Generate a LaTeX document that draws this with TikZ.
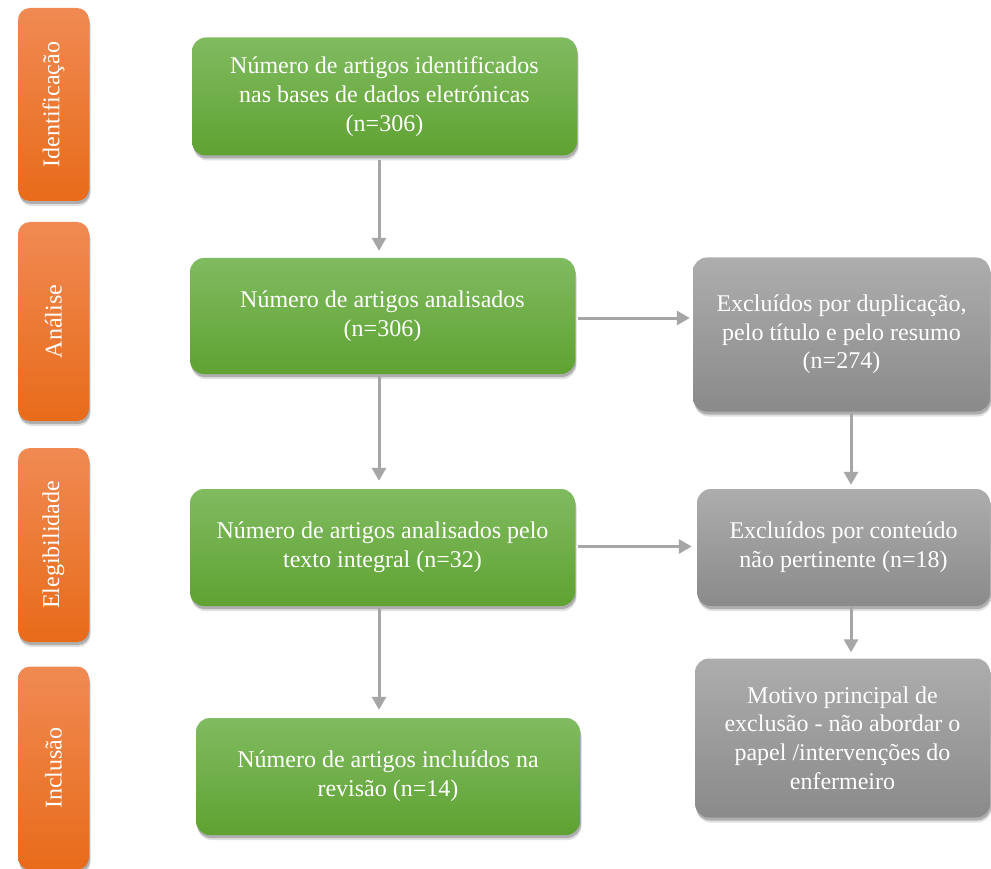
\documentclass[tikz,border=0pt]{standalone}
\usepackage{fontspec}
\setmainfont{LiberationSerif}[Extension=.ttf, UprightFont=*-Regular, BoldFont=*-Bold]
\usetikzlibrary{arrows.meta,shadows,calc}
\definecolor{gtop}{HTML}{80BB60}
\definecolor{gbot}{HTML}{5FA232}
\definecolor{otop}{HTML}{F08A52}
\definecolor{obot}{HTML}{E86B1A}
\definecolor{rtop}{HTML}{ADADAD}
\definecolor{rbot}{HTML}{8A8A8A}
\definecolor{arrc}{HTML}{A6A6A6}
\tikzset{
  box/.style={rectangle, rounded corners=14pt, inner sep=0pt, align=center, text=white,
    font=\fontsize{24}{28.7}\selectfont,
    drop shadow={shadow xshift=1.5pt, shadow yshift=-5pt, opacity=0.12, fill=black},
    drop shadow={shadow xshift=1pt, shadow yshift=-3pt, opacity=0.22, fill=black}},
  gbox/.style={box, top color=gtop, bottom color=gbot},
  rbox/.style={box, top color=rtop, bottom color=rbot},
  obox/.style={box, rounded corners=12pt, top color=otop, bottom color=obot, minimum width=71pt},
  arr/.style={draw=arrc, line width=3pt, -{Triangle[width=14pt,length=13pt]}}
}
\begin{document}
\begin{tikzpicture}[x=1pt,y=-1pt]
\useasboundingbox[fill=white] (0,0) rectangle (991,869);
% side labels
\node[obox, minimum height=193pt] (o1) at (53.5,104.5) {\rotatebox{90}{Identificação}};
\node[obox, minimum height=199pt] (o2) at (53.5,321.5) {\rotatebox{90}{Análise}};
\node[obox, minimum height=194pt] (o3) at (53.5,545) {\rotatebox{90}{Elegibilidade}};
\node[obox, minimum height=203pt] (o4) at (53.5,768) {\rotatebox{90}{Inclusão}};
% green boxes
\node[gbox, minimum width=385pt, minimum height=118pt] (g1) at (384.5,96.5) {Número de artigos identificados\\nas bases de dados eletrónicas\\(n=306)};
\node[gbox, minimum width=385pt, minimum height=116pt] (g2) at (382.5,316) {Número de artigos analisados\\(n=306)};
\node[gbox, minimum width=385pt, minimum height=117pt] (g3) at (382.5,547.5) {Número de artigos analisados pelo\\texto integral (n=32)};
\node[gbox, minimum width=384pt, minimum height=117pt] (g4) at (388,776.5) {Número de artigos incluídos na\\revisão (n=14)};
% gray boxes
\node[rbox, minimum width=297pt, minimum height=154pt] (r1) at (841.5,334.5) {Excluídos por duplicação,\\pelo título e pelo resumo\\(n=274)};
\node[rbox, minimum width=293pt, minimum height=117pt] (r2) at (843.5,547.5) {Excluídos por conteúdo\\não pertinente (n=18)};
\node[rbox, minimum width=295pt, minimum height=159pt] (r3) at (842.5,738) {Motivo principal de\\exclusão - não abordar o\\papel /intervenções do\\enfermeiro};
% arrows
\coordinate (c1) at (379,0);
\coordinate (c2) at (851,0);
\draw[arr, shorten <=4pt, shorten >=7pt] (g1.south -| c1) -- (g2.north -| c1);
\draw[arr, shorten <=2pt, shorten >=8pt] (g2.south -| c1) -- (g3.north -| c1);
\draw[arr, shorten <=2pt, shorten >=8pt] (g3.south -| c1) -- (g4.north -| c1);
\draw[arr, shorten <=3pt, shorten >=3pt] ($(g2.east)+(0,2)$) -- ($(r1.west |- g2.east)+(0,2)$);
\draw[arr, shorten <=3pt, shorten >=5pt] ($(g3.east)+(0,-1)$) -- ($(r2.west)+(0,-1)$);
\draw[arr, shorten <=1pt, shorten >=4pt] (r1.south -| c2) -- (r2.north -| c2);
\draw[arr, shorten <=1pt, shorten >=6pt] (r2.south -| c2) -- (r3.north -| c2);
\end{tikzpicture}
\end{document}
